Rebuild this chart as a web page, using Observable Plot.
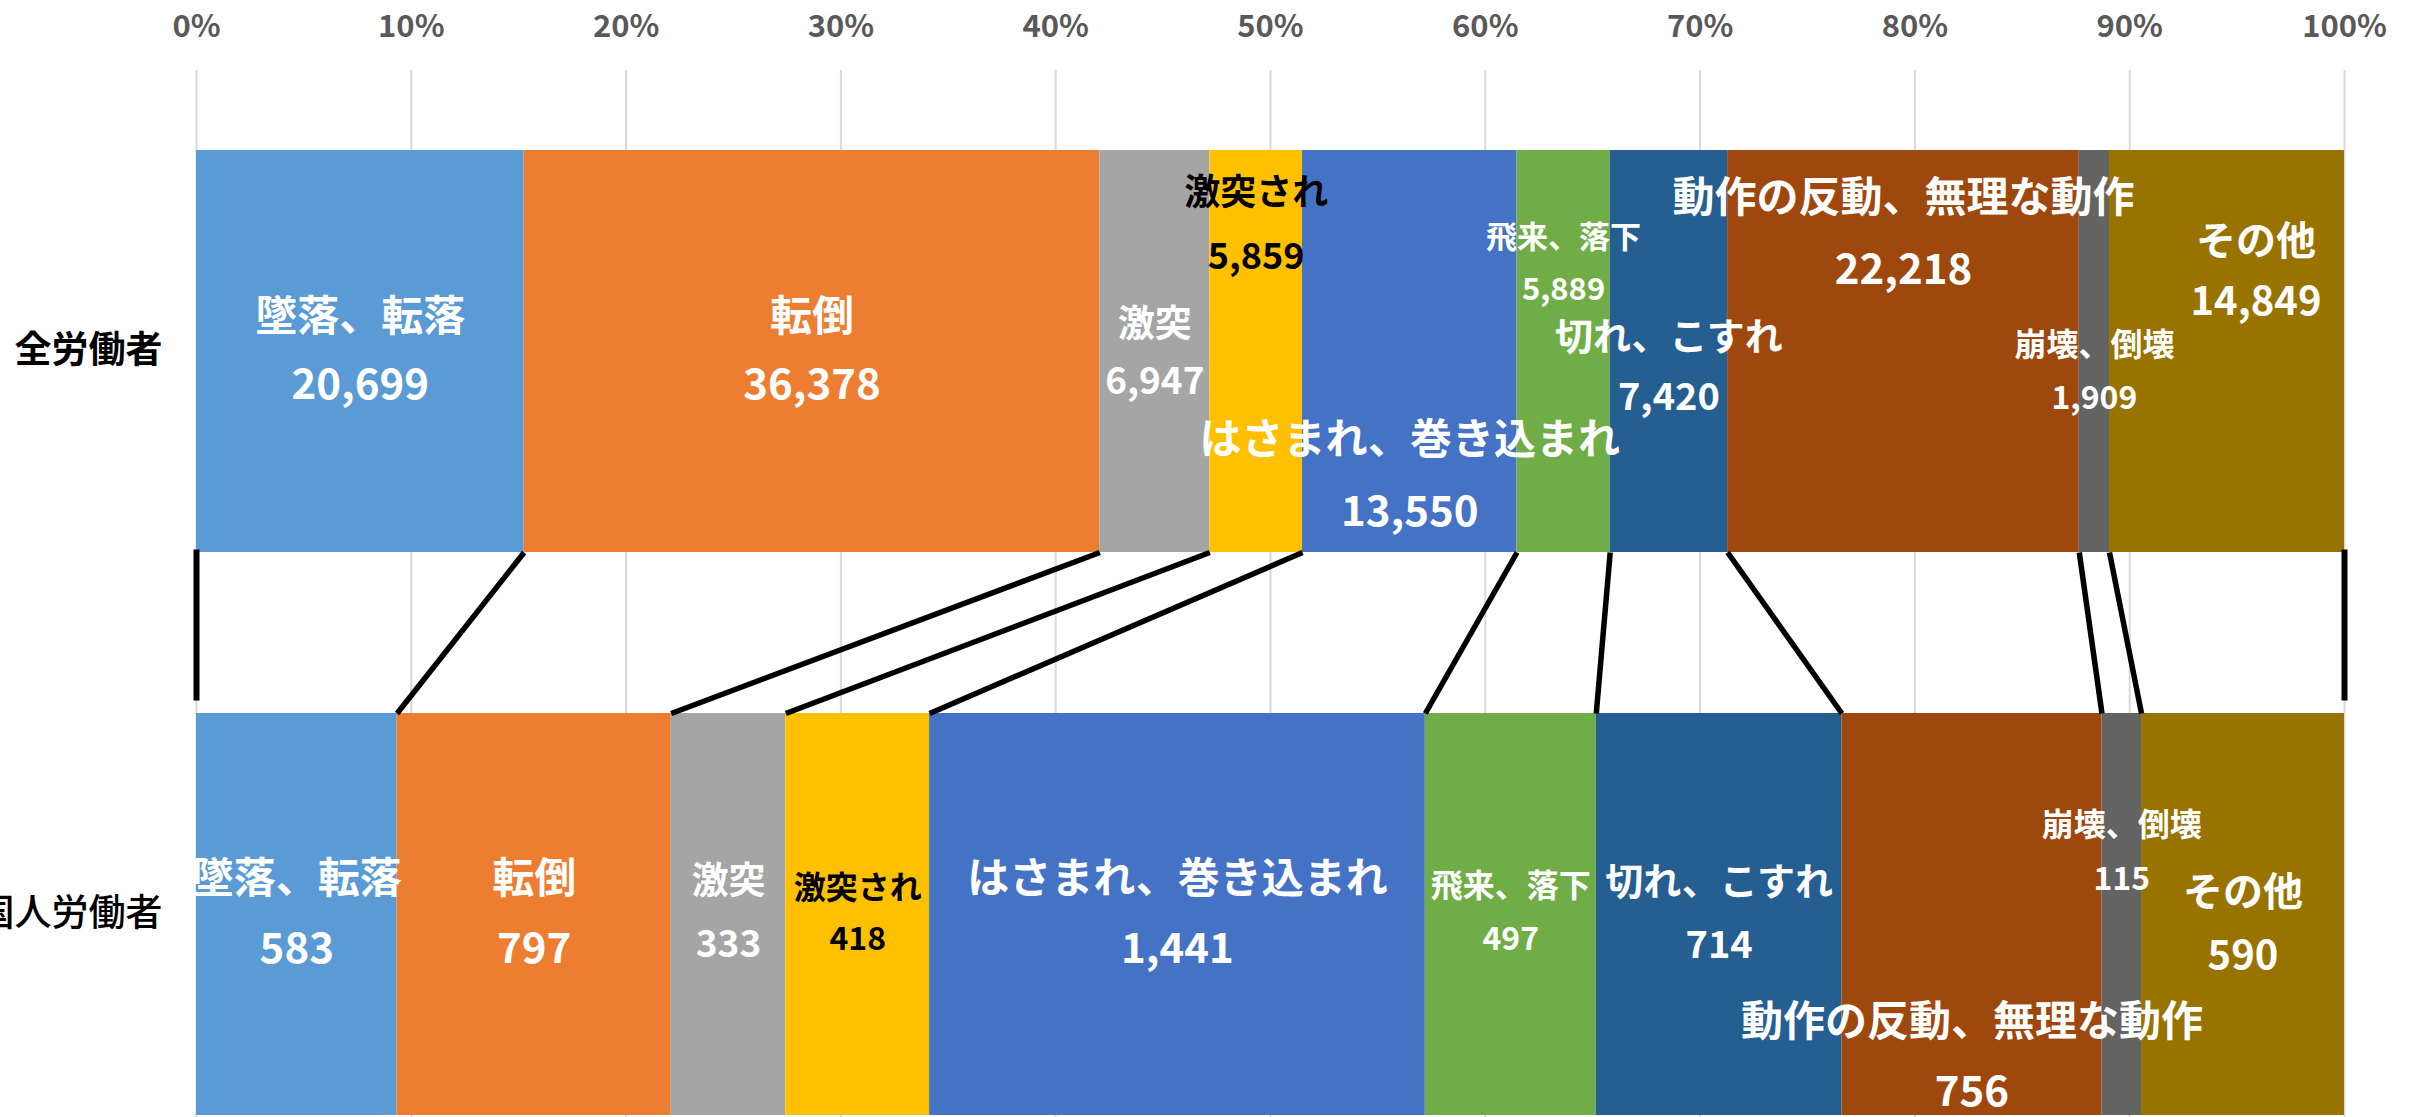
<!DOCTYPE html>
<html><head><meta charset="utf-8">
<script src="https://cdn.jsdelivr.net/npm/d3@7"></script>
<script src="https://cdn.jsdelivr.net/npm/@observablehq/plot@0.6"></script>
<style>
html,body{margin:0;padding:0;background:#fff;}
#chart{width:2418px;height:1117px;overflow:hidden;}
</style></head>
<body><div id="chart"></div>
<script>
// ---- data ----
const groups = ["全労働者", "外国人労働者"];
const categories = ["墜落、転落", "転倒", "激突", "激突され", "はさまれ、巻き込まれ", "飛来、落下", "切れ、こすれ", "動作の反動、無理な動作", "崩壊、倒壊", "その他"];
const allWorkers = [20699, 36378, 6947, 5859, 13550, 5889, 7420, 22218, 1909, 14849];
const foreignWorkers = [583, 797, 333, 418, 1441, 497, 714, 756, 115, 590];
const xTickLabels = [0, 10, 20, 30, 40, 50, 60, 70, 80, 90, 100];

// ---- styles ----
const colors = ["#5B9BD5", "#ED7D31", "#A5A5A5", "#FFC000", "#4472C4", "#70AD47", "#255E91", "#9E480E", "#636363", "#997300"];
const textColors = ["#fff", "#fff", "#fff", "#000", "#fff", "#fff", "#fff", "#fff", "#fff", "#fff"];
// [name dy, value dy, font size, dx]
const topLayout = [
  [-34, 34, 42, 0], [-34, 34, 42, 0], [-26, 31, 37, 0], [-158, -94, 36, 0], [89, 161, 42, 0],
  [-113, -61, 31, 0], [-14, 46, 38, 0], [-153, -81, 42, 0], [-6, 47, 32, 0], [-109, -49, 40, 29]
];
const bottomLayout = [
  [-35, 35, 42, 0], [-35, 35, 42, 0], [-32, 31, 37, 0], [-26, 25, 32, 0], [-35, 35, 42, 0],
  [-28, 25, 32, 0], [-32, 31, 38, 0], [108, 178, 42, 0], [-89, -35, 32, 0], [-21, 42, 40, 0]
];

// ---- derived table ----
const series = [allWorkers, foreignWorkers];
const rows = [];
groups.forEach((g, gi) => {
  const vals = series[gi];
  const total = d3.sum(vals);
  let acc = 0;
  categories.forEach((c, ci) => {
    const x1 = acc / total; acc += vals[ci]; const x2 = acc / total;
    rows.push({group: g, cat: c, value: vals[ci], x1, x2, mid: (x1 + x2) / 2, gi, ci});
  });
});
const n = categories.length;
const bounds = d3.range(n + 1).map(k => ({
  top: k === 0 ? 0 : rows[k - 1].x2,
  bottom: k === 0 ? 0 : rows[n + k - 1].x2,
  from: groups[0], to: groups[1], k
}));
const innerLinks = bounds.filter(b => b.k > 0 && b.k < n);
const edgeLinks = bounds.filter(b => b.k === 0 || b.k === n);

function insetCurve(top, bottom) {
  return context => {
    let pts;
    return {
      areaStart() {}, areaEnd() {},
      lineStart() { pts = []; },
      point(x, y) { pts.push([+x, +y]); },
      lineEnd() {
        const a = pts[0], b = pts[pts.length - 1];
        context.moveTo(a[0], a[1] + top);
        context.lineTo(b[0], b[1] - bottom);
      }
    };
  };
}

const fmt = d3.format(",");
const labelMarks = [];
rows.forEach(r => {
  const L = (r.gi === 0 ? topLayout : bottomLayout)[r.ci];
  const common = {x: "mid", y: "group", fill: textColors[r.ci], fontWeight: "bold", fontSize: L[2], dx: L[3]};
  labelMarks.push(Plot.text([r], {...common, text: "cat", dy: L[0]}));
  labelMarks.push(Plot.text([r], {...common, text: d => fmt(d.value), dy: L[1]}));
});

const plot = Plot.plot({
  width: 2418, height: 1117,
  marginTop: 70, marginBottom: 0, marginLeft: 196, marginRight: 74,
  x: {domain: [0, 1], label: null},
  y: {domain: groups, range: [150, 1115], paddingInner: 0.286, paddingOuter: 0, label: null},
  color: {domain: categories, range: colors},
  style: {fontFamily: "'Noto Sans CJK JP', sans-serif", background: "#fff", overflow: "visible"},
  marks: [
    Plot.gridX(xTickLabels.map(t => t / 100), {stroke: "#d9d9d9", strokeOpacity: 1, strokeWidth: 2}),
    Plot.barX(rows, {x1: "x1", x2: "x2", y: "group", fill: "cat"}),
    Plot.link(innerLinks, {x1: "top", x2: "bottom", y1: "from", y2: "to", stroke: "#000", strokeWidth: 5.5, curve: insetCurve(201, 201)}),
    Plot.link(edgeLinks, {x1: "top", x2: "bottom", y1: "from", y2: "to", stroke: "#000", strokeWidth: 6, curve: insetCurve(198, 214)}),
    ...labelMarks,
    Plot.axisX(xTickLabels.map(t => t / 100), {anchor: "top", tickSize: 0, tickPadding: 34, tickFormat: d => Math.round(d * 100) + "%", fontSize: 31, fontWeight: "bold", color: "#595959", label: null}),
    Plot.axisY([groups[0]], {anchor: "left", tickSize: 0, tickPadding: 34, fontSize: 37, fontWeight: "bold", color: "#000", label: null}),
    Plot.axisY([groups[1]], {anchor: "left", tickSize: 0, tickPadding: 34, fontSize: 37, fontWeight: 500, color: "#000", label: null})
  ]
});
document.getElementById("chart").appendChild(plot);
</script>
</body></html>
